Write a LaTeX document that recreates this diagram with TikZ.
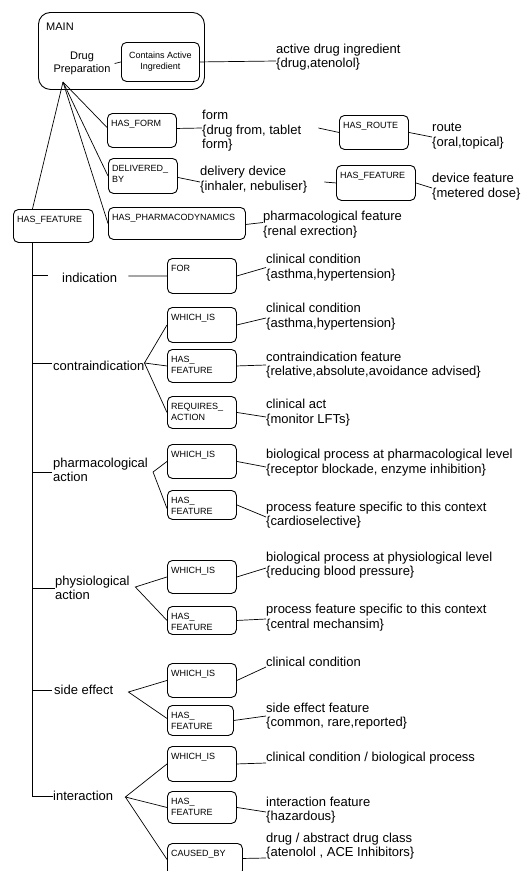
\documentclass[tikz,border=0pt]{standalone}
\usepackage{fontspec}
\setmainfont{Liberation Sans}
\usetikzlibrary{calc}
\newcommand\relbox[6]{\node[rel, minimum width=#4pt, minimum height=#5pt, label={[rt]north west:#6}] (#1) at (#2,#3) {};}
\begin{document}
\begin{tikzpicture}[x=1pt,y=-1pt,
  rel/.style={draw, line width=0.9pt, rounded corners=5pt, inner sep=0pt, anchor=north west},
  rt/.style={font=\fontsize{9}{11}\selectfont, align=left, inner sep=0pt, anchor=north west, xshift=4pt, yshift=-7pt},
  lab/.style={font=\fontsize{13}{14.5}\selectfont, align=left, inner sep=0pt, anchor=west},
  conn/.style={line width=0.7pt},
  trunkline/.style={line width=1.4pt}]
\useasboundingbox (0,0) rectangle (522,871);
\clip (0,0) rectangle (522,871);
% main block
\node[draw, line width=0.9pt, rounded corners=12pt, minimum width=166pt, minimum height=77pt, anchor=north west, inner sep=0pt,
  label={[font=\fontsize{11}{13}\selectfont, inner sep=0pt, anchor=north west, xshift=8pt, yshift=-11pt]north west:MAIN}] (main) at (38,12) {};
\node[font=\fontsize{11}{13}\selectfont, align=center, inner sep=0pt] (prep) at (82,63.5) {Drug\\Preparation};
\node[rel, minimum width=78pt, minimum height=39pt, font=\fontsize{9}{11}\selectfont, align=center] (cai) at (121,42) {Contains Active\\Ingredient};
\coordinate (apex) at (63,82);
% boxes
\relbox{form}{107}{113}{69}{34}{HAS\_FORM}
\relbox{route}{339}{115}{69}{34}{HAS\_ROUTE}
\relbox{deliv}{108}{158}{69}{35}{DELIVERED\_\\BY}
\relbox{devfeat}{336}{165}{79}{35}{HAS\_FEATURE}
\relbox{pharmdyn}{108}{207}{137}{32}{HAS\_PHARMACODYNAMICS}
\relbox{hasfeat}{13}{209}{80}{33}{HAS\_FEATURE}
\relbox{for}{167}{258}{69}{35}{FOR}
\relbox{ciw}{167}{307}{69}{35}{WHICH\_IS}
\relbox{cif}{167}{349}{69}{33}{HAS\_\\FEATURE}
\relbox{cir}{167}{396}{69}{32}{REQUIRES\_\\ACTION}
\relbox{paw}{167}{444}{69}{34}{WHICH\_IS}
\relbox{paf}{167}{490}{69}{29}{HAS\_\\FEATURE}
\relbox{phw}{167}{560}{69}{33}{WHICH\_IS}
\relbox{phf}{167}{606}{69}{28}{HAS\_\\FEATURE}
\relbox{sew}{167}{663}{69}{34}{WHICH\_IS}
\relbox{sef}{167}{705}{66}{30}{HAS\_\\FEATURE}
\relbox{inw}{167}{746}{69}{35}{WHICH\_IS}
\relbox{inf}{167}{791}{69}{32}{HAS\_\\FEATURE}
\relbox{cb}{167}{843}{75}{32}{CAUSED\_BY}
% top labels
\node[lab] (lact) at (276,57) {active drug ingredient\\\{drug,atenolol\}};
\node[lab] (lform) at (202,131) {form\\\{drug from, tablet\\form\}};
\node[lab] (lroute) at (432,136) {route\\\{oral,topical\}};
\node[lab] (ldeliv) at (200,179.5) {delivery device\\\{inhaler, nebuliser\}};
\node[lab] (ldev) at (432,186.5) {device feature\\\{metered dose\}};
\node[lab] (lpd) at (263,224.5) {pharmacological feature\\\{renal exrection\}};
% left labels
\node[lab] (lind) at (62,278) {indication};
\node[lab] (lci) at (53,366) {contraindication};
\node[lab] (lpa) at (53,470) {pharmacological\\action};
\node[lab] (lph) at (55,588) {physiological\\action};
\node[lab] (lse) at (54,690) {side effect};
\node[lab] (lint) at (53,796) {interaction};
% right labels
\node[lab] (lfor) at (266,267.5) {clinical condition\\\{asthma,hypertension\}};
\node[lab] (lciw) at (266,316.5) {clinical condition\\\{asthma,hypertension\}};
\node[lab] (lcif) at (266,365) {contraindication feature\\\{relative,absolute,avoidance advised\}};
\node[lab] (lcir) at (266,412.5) {clinical act\\\{monitor LFTs\}};
\node[lab] (lpaw) at (266,462.5) {biological process at pharmacological level\\\{receptor blockade, enzyme inhibition\}};
\node[lab] (lpaf) at (266,515) {process feature specific to this context\\\{cardioselective\}};
\node[lab] (lphw) at (266,565) {biological process at physiological level\\\{reducing blood pressure\}};
\node[lab] (lphf) at (266,617.5) {process feature specific to this context\\\{central mechansim\}};
\node[lab] (lsew) at (266,662) {clinical condition};
\node[lab] (lsef) at (266,716) {side effect feature\\\{common, rare,reported\}};
\node[lab] (linw) at (266,758) {clinical condition / biological process};
\node[lab] (linf) at (266,810) {interaction feature\\\{hazardous\}};
\node[lab] (lcb) at (266,846) {drug / abstract drug class\\\{atenolol , ACE Inhibitors\}};
% connectors top
\draw[conn] ([xshift=4pt]prep.east) -- (cai.west);
\draw[conn] (cai.east) -- ([yshift=-4pt]lact.west);
\coordinate (trunk) at ([xshift=-21pt]hasfeat.south);
\draw[conn] (apex) -- (trunk |- hasfeat.north);
\draw[conn] (apex) -- ([yshift=3pt]form.west);
\draw[conn] (apex) -- (deliv.west);
\draw[conn] (apex) -- (pharmdyn.west);
\draw[conn] ([yshift=2pt]form.east) -- ([yshift=3pt]lform.west);
\draw[conn] ([xshift=17pt,yshift=3pt]lform.east) -- (route.west);
\draw[conn] (route.east) -- ([yshift=-1pt]lroute.west);
\draw[conn] ([yshift=-1.5pt]deliv.east) -- ([yshift=-2.5pt]ldeliv.west);
\draw[conn] ([xshift=17pt,yshift=-2.5pt]ldeliv.east) -- (devfeat.west);
\draw[conn] (devfeat.east) -- ([yshift=-1.5pt]ldev.west);
\draw[conn] ([yshift=-1pt]pharmdyn.east) -- ([yshift=2pt]lpd.west);
% trunk
\draw[trunkline] (trunk) -- (trunk |- lint.west);
\draw[conn] ($(trunk |- lind.west)+(0pt,3pt)$) -- ([xshift=-14pt,yshift=3pt]lind.west);
\draw[conn] ($(trunk |- lci.west)+(0pt,3pt)$) -- ([xshift=-1pt,yshift=3pt]lci.west);
\draw[conn] ($(trunk |- lpa.west)+(0pt,-2pt)$) -- ([xshift=-1pt,yshift=-2pt]lpa.west);
\draw[conn] (trunk |- lph.west) -- (lph.west);
\draw[conn] (trunk |- lse.west) -- ([xshift=-2pt]lse.west);
\draw[conn] (trunk |- lint.west) -- (lint.west);
% fans
\draw[conn] ([xshift=11pt,yshift=2pt]lind.east) -- (for.west);
\coordinate (fci) at ([yshift=3pt]lci.east);
\draw[conn] (ciw.west) -- (fci) -- (cif.west);
\draw[conn] (fci) -- (cir.west);
\coordinate (fpa) at ([xshift=5pt,yshift=-2pt]lpa.east);
\draw[conn] (paw.west) -- (fpa) -- ([yshift=-3.5pt]paf.west);
\coordinate (fph) at ([xshift=5.5pt,yshift=1pt]lph.east);
\draw[conn] (phw.west) -- (fph) -- (phf.west);
\coordinate (fse) at ([xshift=15pt,yshift=-2pt]lse.east);
\draw[conn] (sew.west) -- (fse) -- ([yshift=2pt]sef.west);
\coordinate (fin) at ([xshift=12pt,yshift=-1pt]lint.east);
\draw[conn] (inw.west) -- (fin) -- (inf.west);
\draw[conn] (fin) -- (cb.west);
% right connectors
\draw[conn] (for.east) -- (lfor.west);
\draw[conn] (ciw.east) -- ([yshift=-1.5pt]lciw.west);
\draw[conn] (cif.east) -- (lcif.west);
\draw[conn] (cir.east) -- ([yshift=-4.5pt]lcir.west);
\draw[conn] (paw.east) -- ([yshift=-4.5pt]lpaw.west);
\draw[conn] (paf.east) -- ([yshift=-2pt]lpaf.west);
\draw[conn] (phw.east) -- ([yshift=-3pt]lphw.west);
\draw[conn] (phf.east) -- ([yshift=-1.5pt]lphf.west);
\draw[conn] (sew.east) -- ([yshift=-5pt]lsew.west);
\draw[conn] (sef.east) -- (lsef.west);
\draw[conn] (inw.east) -- ([yshift=-5pt]linw.west);
\draw[conn] (inf.east) -- ([yshift=-2pt]linf.west);
\draw[conn] ([yshift=1pt]cb.east) -- ([yshift=-12pt]lcb.west);
\end{tikzpicture}
\end{document}
